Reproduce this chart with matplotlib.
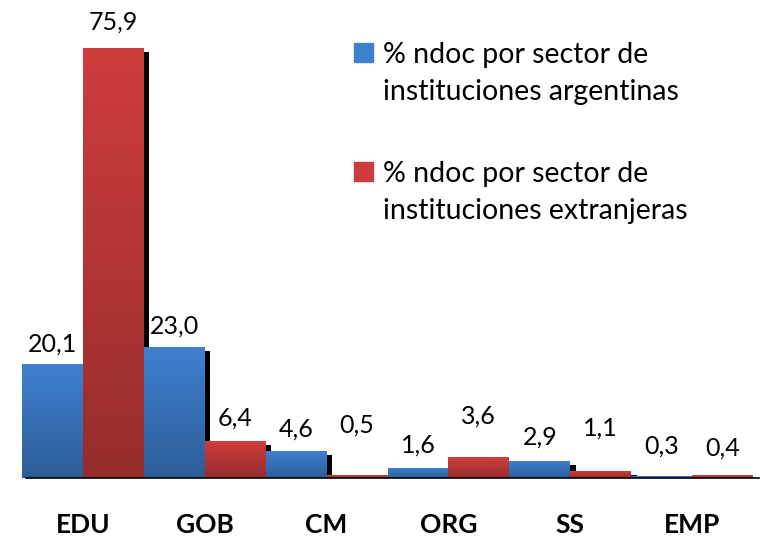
import numpy as np
import matplotlib
matplotlib.use('Agg')
import matplotlib.pyplot as plt
from matplotlib.colors import LinearSegmentedColormap
from matplotlib.patches import Rectangle
from matplotlib.transforms import ScaledTranslation

plt.rcParams['font.family'] = ['Lato', 'DejaVu Sans']

# data
sectors = ['EDU', 'GOB', 'CM', 'ORG', 'SS', 'EMP']
argentinas = [20.1, 23.0, 4.6, 1.6, 2.9, 0.3]
extranjeras = [75.9, 6.4, 0.5, 3.6, 1.1, 0.4]
series_names = ['% ndoc por sector de\ninstituciones argentinas',
                '% ndoc por sector de\ninstituciones extranjeras']

# styling
blue_top, blue_bot = '#3e80cf', '#2d5d99'
red_top, red_bot = '#cd3d3c', '#962d2c'
# label distance above bar top, in pixels (as placed in the original)
blue_lab_off = [20, 22, 23, 24, 24, 30]
red_lab_off = [26, 24, 50, 42, 44, 28]

fig = plt.figure(figsize=(7.6, 5.41), dpi=100)
ax = fig.add_axes([22/760, 1-478/541, 731/760, 478/541])

x = np.arange(len(sectors))
w = 0.5

# drop shadows
shadow_tr = ax.transData + ScaledTranslation(5.5/100, -3.5/100, fig.dpi_scale_trans)
for xs, vals in ((x - w/2, argentinas), (x + w/2, extranjeras)):
    ax.bar(xs, vals, w, color='black', transform=shadow_tr, zorder=1, linewidth=0)

b1 = ax.bar(x - w/2, argentinas, w, color=blue_top, zorder=2, linewidth=0)
b2 = ax.bar(x + w/2, extranjeras, w, color=red_top, zorder=2, linewidth=0)

grad = np.linspace(0, 1, 64).reshape(-1, 1)
for bars, (top, bot) in ((b1, (blue_top, blue_bot)), (b2, (red_top, red_bot))):
    cmap = LinearSegmentedColormap.from_list('g', [bot, top])
    for p in bars:
        x0, y0 = p.get_x(), p.get_y()
        ax.imshow(grad, extent=[x0, x0 + p.get_width(), y0, y0 + p.get_height()],
                  origin='lower', aspect='auto', cmap=cmap, zorder=3,
                  clip_path=p, clip_on=True)

def fmt(v):
    return f'{v:.1f}'.replace('.', ',')

for bars, vals, offs in ((b1, argentinas, blue_lab_off), (b2, extranjeras, red_lab_off)):
    for p, v, o in zip(bars, vals, offs):
        ax.annotate(fmt(v), (p.get_x() + p.get_width()/2, v), xytext=(0, o),
                    textcoords='offset pixels', ha='center', va='center',
                    fontsize=18, zorder=5)

ax.set_xlim(-0.5, len(sectors) - 0.5)
ax.set_ylim(0, 478/5.665)
ax.axhline(0, xmin=0.005, xmax=1.008, color='black', lw=1.2, zorder=4, clip_on=False)
for s in ax.spines.values():
    s.set_visible(False)
ax.set_yticks([])
ax.set_xticks(x)
ax.set_xticklabels(sectors, fontsize=19, fontweight='bold')
ax.tick_params(axis='x', length=0, pad=25)

# legend
for i, (name, col) in enumerate(zip(series_names, (blue_top, red_top))):
    top_px = 43 + i*119
    fig.patches.append(Rectangle((354/760, 1-(top_px+19)/541), 19/760, 19/541,
                                 transform=fig.transFigure, color=col))
    for j, line in enumerate(name.split('\n')):
        fig.text(383/760, 1-(top_px + 12 + j*37)/541, line, fontsize=20.5,
                 va='center', ha='left')

fig.savefig('out.png', dpi=100)
